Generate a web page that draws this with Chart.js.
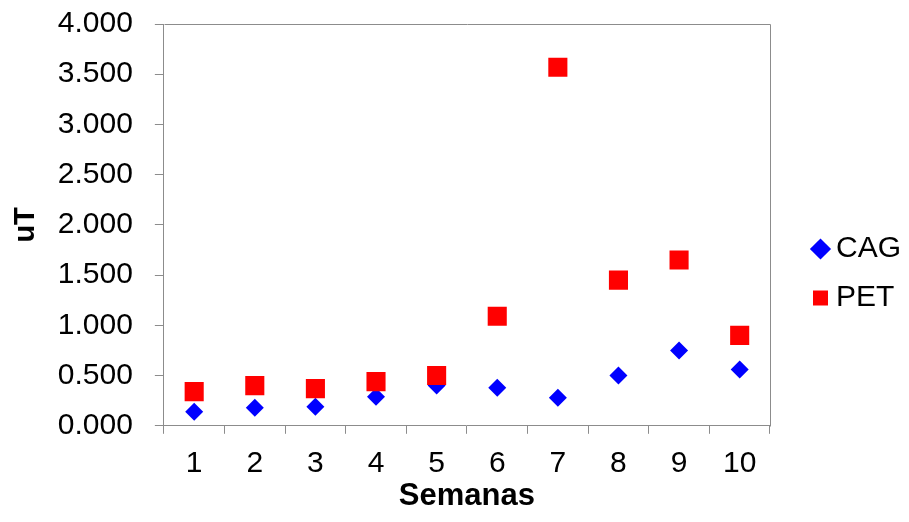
<!DOCTYPE html>
<html>
<head>
<meta charset="utf-8">
<script src="https://cdn.jsdelivr.net/npm/chart.js@4"></script>
<style>
  html, body { margin: 0; padding: 0; background: #fff; }
  #wrap { width: 909px; height: 522px; }
</style>
</head>
<body>
<div id="wrap"><canvas id="c" width="909" height="522"></canvas></div>
<script>
// Weekly readings (uT) for the two series
const semanas = ['1', '2', '3', '4', '5', '6', '7', '8', '9', '10'];
const cagValues = [0.14, 0.18, 0.19, 0.29, 0.40, 0.38, 0.28, 0.50, 0.75, 0.56];
const petValues = [0.34, 0.40, 0.37, 0.44, 0.50, 1.09, 3.57, 1.45, 1.65, 0.90];
const yTicks = [0, 0.5, 1, 1.5, 2, 2.5, 3, 3.5, 4];

const axisGray = '#8c8c8c';
const fontFamily = '"Liberation Sans", Arial, sans-serif';

// frame along the top and right of the plot area
const plotFrame = {
  id: 'plotFrame',
  afterDraw(chart) {
    const { ctx, chartArea: a } = chart;
    ctx.save();
    ctx.strokeStyle = axisGray;
    ctx.lineWidth = 1;
    ctx.beginPath();
    ctx.moveTo(Math.round(a.left) + 0.5, Math.round(a.top) + 0.5);
    ctx.lineTo(Math.round(a.right) + 0.5, Math.round(a.top) + 0.5);
    ctx.lineTo(Math.round(a.right) + 0.5, Math.round(a.bottom) + 0.5);
    ctx.stroke();
    ctx.restore();
  }
};

// move the legend block into the empty space right of the plot
const legendNudge = {
  id: 'legendNudge',
  afterLayout(chart) {
    const lg = chart.legend;
    if (!lg) return;
    const dx = 31, dy = 16;
    lg.left += dx; lg.right += dx;
    lg.top += dy; lg.bottom += dy;
  }
};

new Chart(document.getElementById('c'), {
  type: 'line',
  data: {
    labels: semanas,
    datasets: [
      {
        label: 'CAG',
        data: cagValues,
        showLine: false,
        pointStyle: 'rectRot',
        pointRadius: 9,
        pointHoverRadius: 9,
        backgroundColor: '#0000ff',
        borderColor: '#0000ff',
        pointBorderWidth: 0,
        order: 1
      },
      {
        label: 'PET',
        data: petValues,
        showLine: false,
        pointStyle: 'rect',
        pointRadius: 13.5,
        pointHoverRadius: 13.5,
        backgroundColor: '#ff0000',
        borderColor: '#ff0000',
        pointBorderWidth: 0,
        order: 0
      }
    ]
  },
  options: {
    responsive: false,
    animation: false,
    layout: { padding: { top: 0, right: 29, bottom: 7, left: 5 } },
    plugins: {
      tooltip: { enabled: false },
      legend: {
        position: 'right',
        labels: {
          usePointStyle: true,
          boxWidth: 1,
          boxHeight: 15,
          padding: 19,
          color: '#000',
          font: { family: fontFamily, size: 30 },
          sort: (a, b) => a.datasetIndex - b.datasetIndex
        }
      }
    },
    scales: {
      x: {
        type: 'category',
        offset: true,
        grid: {
          offset: true,
          drawOnChartArea: false,
          drawTicks: true,
          tickLength: 8,
          color: axisGray
        },
        border: { color: axisGray },
        ticks: {
          color: '#000',
          padding: 12,
          font: { family: fontFamily, size: 30 },
          maxRotation: 0
        },
        title: {
          display: true,
          text: 'Semanas',
          color: '#000',
          padding: { top: -16, bottom: 0 },
          font: { family: fontFamily, size: 31, weight: 'bold' }
        }
      },
      y: {
        min: 0,
        max: 4,
        afterBuildTicks(scale) {
          scale.ticks = yTicks.map(v => ({ value: v }));
        },
        afterFit(scale) {
          scale.paddingTop = 24;
        },
        grid: {
          drawOnChartArea: false,
          drawTicks: true,
          tickLength: 9,
          color: axisGray
        },
        border: { color: axisGray },
        ticks: {
          color: '#000',
          padding: 22,
          font: { family: fontFamily, size: 30 },
          callback: v => Number(v).toFixed(3)
        },
        title: {
          display: true,
          text: 'uT',
          color: '#000',
          padding: { top: 4, bottom: -8 },
          font: { family: fontFamily, size: 29, weight: 'bold' }
        }
      }
    }
  },
  plugins: [plotFrame, legendNudge]
});
</script>
</body>
</html>
